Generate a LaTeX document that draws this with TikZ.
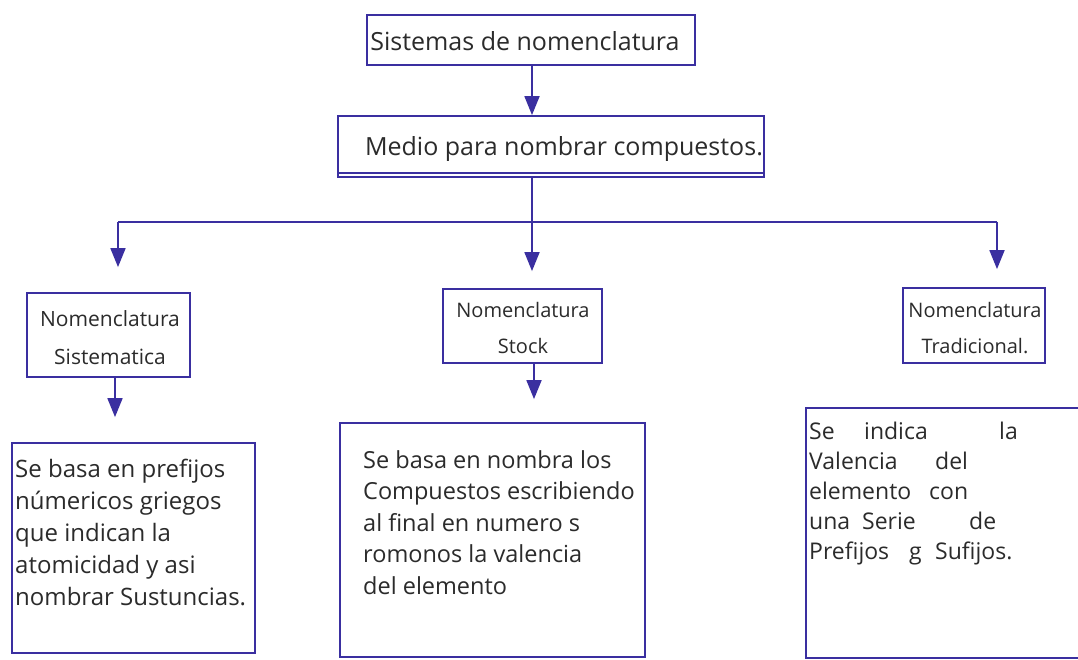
\documentclass[tikz,border=0pt]{standalone}
\usepackage{fontspec}
\setmainfont{Open Sans}
\usetikzlibrary{arrows.meta}
\definecolor{ink}{HTML}{3A2FA0}
\definecolor{pen}{HTML}{2B2B2B}
\tikzset{
  box/.style={draw=ink, line width=1.8pt, inner sep=0pt},
  arr/.style={draw=ink, line width=1.8pt, -{Triangle[width=15pt,length=19pt]}},
  ln/.style={draw=ink, line width=1.8pt},
  txt/.style={text=pen, inner sep=0pt, align=left, anchor=north west},
  ctxt/.style={text=pen, inner sep=0pt, align=center},
}
\begin{document}
\begin{tikzpicture}[x=1pt,y=-1pt]
\useasboundingbox (0,0) rectangle (1078,660);
\fill[white] (0,0) rectangle (1078,660);
% top
\node[box, minimum width=328pt, minimum height=50pt] (sis) at (531,40) {};
\node[ctxt, font=\fontsize{25}{30}\selectfont] (sist0) at (525,41) {Sistemas de nomenclatura};
\node[box, minimum width=426pt, minimum height=61pt] (med) at (551,146.5) {};
\node[ctxt, font=\fontsize{25}{30}\selectfont] (medt) at (564,149) {Medio para nombrar compuestos.};
\draw[ln] (med.south west) ++(0,-5) -- ([yshift=5pt]med.south east);
\draw[arr] (sis.south -| 532,0) -- (med.north -| 532,0);
% junction
\coordinate (j) at (532,222);
\coordinate (hl) at (118,222);
\coordinate (hr) at (997,222);
\draw[ln] (hl) -- (hr);
% second level
\node[box, minimum width=163pt, minimum height=84pt] (sisn) at (108.5,335) {};
\node[ctxt, font=\fontsize{21}{38}\selectfont] (sist) at (110,338) {Nomenclatura\\Sistematica};
\node[box, minimum width=159pt, minimum height=74pt] (stk) at (522.5,326) {};
\node[ctxt, font=\fontsize{20}{36}\selectfont] (stkt) at (523,328) {Nomenclatura\\Stock};
\node[box, minimum width=142pt, minimum height=75pt] (tra) at (974,325.5) {};
\node[ctxt, font=\fontsize{20}{36}\selectfont] (trat) at (975,328) {Nomenclatura\\Tradicional.};
\draw[ln] (med.south -| j) -- (j);
\draw[arr, shorten >=25pt] (hl) -- (hl |- sisn.north);
\draw[arr, shorten >=17pt] (j) -- (j |- stk.north);
\draw[arr, shorten >=18pt] (hr) -- (hr |- tra.north);
% third level
\node[box, minimum width=243pt, minimum height=210pt] (b1) at (133.5,548) {};
\node[box, minimum width=305pt, minimum height=234pt] (b2) at (492.5,540) {};
\begin{scope}
\clip (0,0) rectangle (1078,660);
\node[box, minimum width=290pt, minimum height=250pt] (b3) at (951,533) {};
\end{scope}
\draw[arr, shorten >=25pt] (115,0 |- sisn.south) -- (115,0 |- b1.north);
\draw[arr, shorten >=23pt] (534,0 |- stk.south) -- (534,0 |- b2.north);
\node[txt, font=\fontsize{24}{32}\selectfont] (t1) at (15,459) {Se basa en prefijos\\númericos griegos\\que indican la\\atomicidad y asi\\nombrar Sustuncias.};
\node[txt, font=\fontsize{23.5}{31.5}\selectfont] (t2) at (363,450) {Se basa en nombra los\\Compuestos escribiendo\\al final en numero s\\romonos la valencia\\del elemento};
\node[txt, font=\fontsize{23}{30}\selectfont] (t3) at (809,422) {%
\makebox[55pt][l]{Se}\makebox[135pt][l]{indica}la\\
\makebox[126pt][l]{Valencia}del\\
\makebox[120pt][l]{elemento}con\\
\makebox[53pt][l]{una}\makebox[107pt][l]{Serie}de\\
\makebox[100pt][l]{Prefijos}\makebox[26pt][l]{g}Sufijos.};
\end{tikzpicture}
\end{document}
